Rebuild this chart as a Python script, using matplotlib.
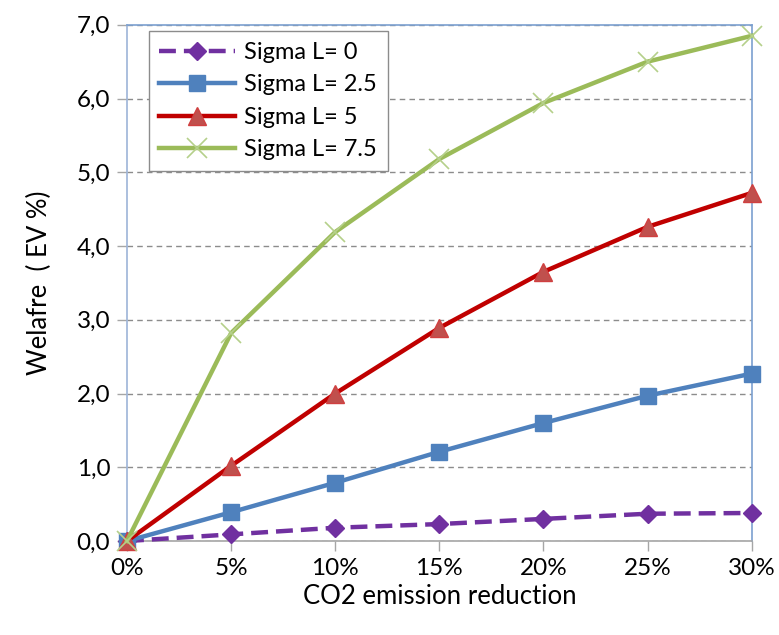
import matplotlib
matplotlib.use("Agg")
import matplotlib.pyplot as plt
from matplotlib.ticker import FuncFormatter

plt.rcParams['font.family'] = ['Lato', 'DejaVu Sans']

x_labels = ["0%", "5%", "10%", "15%", "20%", "25%", "30%"]
x_vals = [0, 5, 10, 15, 20, 25, 30]
sigma0 = [0.0, 0.09, 0.18, 0.23, 0.30, 0.37, 0.38]
sigma25 = [0.0, 0.39, 0.79, 1.21, 1.60, 1.97, 2.27]
sigma5 = [0.0, 1.02, 2.00, 2.89, 3.65, 4.26, 4.72]
sigma75 = [0.0, 2.82, 4.19, 5.18, 5.94, 6.50, 6.85]
y_ticks = [0, 1, 2, 3, 4, 5, 6, 7]

fig = plt.figure(figsize=(7.79, 6.35), dpi=100)
ax = fig.add_axes([0.163, 0.148, 0.802, 0.813])

ax.plot(x_vals, sigma0, color='#7030a0', lw=3.2, dashes=(3.8, 1.8), marker='D',
        ms=9, mfc='#7030a0', mec='#7030a0', label='Sigma L= 0', zorder=3)
ax.plot(x_vals, sigma25, color='#4f81bd', lw=3.2, marker='s', ms=12,
        mfc='#4f81bd', mec='#4f81bd', label='Sigma L= 2.5', zorder=4)
ax.plot(x_vals, sigma5, color='#c00000', lw=3.2, marker='^', ms=13,
        mfc='#c0504d', mec='#d04040', label='Sigma L= 5', zorder=5)
ax.plot(x_vals, sigma75, color='#9bbb59', lw=3.2, marker='x', ms=14, mew=1.2,
        mec='#b5d08a', label='Sigma L= 7.5', zorder=6)

ax.set_xlim(0, 30)
ax.set_ylim(0, 7)
ax.set_xticks(x_vals)
ax.set_xticklabels(x_labels)
ax.set_yticks(y_ticks)
ax.yaxis.set_major_formatter(FuncFormatter(lambda v, p: f"{v:.1f}".replace('.', ',')))

ax.grid(axis='y', color='#8c8c8c', ls=(0, (4, 3)), lw=1)
ax.set_axisbelow(True)

for s in ['top', 'right']:
    ax.spines[s].set_color('#7ba0d0')
    ax.spines[s].set_linewidth(1.2)
for s in ['left', 'bottom']:
    ax.spines[s].set_color('#a6a6a6')
    ax.spines[s].set_linewidth(1.2)
ax.spines['left'].set_color('#9db4d8')

ax.tick_params(axis='both', direction='out', length=7, width=1, color='#a6a6a6',
               labelsize=17.5, pad=5)

ax.set_xlabel('CO2 emission reduction', fontsize=18.5, labelpad=4)
ax.set_ylabel('Welafre  ( EV %)', fontsize=18.5, labelpad=18)

for lbl in ax.get_xticklabels() + ax.get_yticklabels():
    lbl.set_clip_on(False)

leg = ax.legend(loc='upper left', bbox_to_anchor=(0.035, 0.987), fontsize=17,
                frameon=True, fancybox=False, edgecolor='#8c8c8c', framealpha=1,
                handlelength=3.2, handletextpad=0.4, borderpad=0.45, labelspacing=0.48,
                borderaxespad=0.0)
leg.get_frame().set_linewidth(1.0)

for line in ax.lines:
    line.set_clip_on(False)

fig.savefig('out.png', dpi=100)
